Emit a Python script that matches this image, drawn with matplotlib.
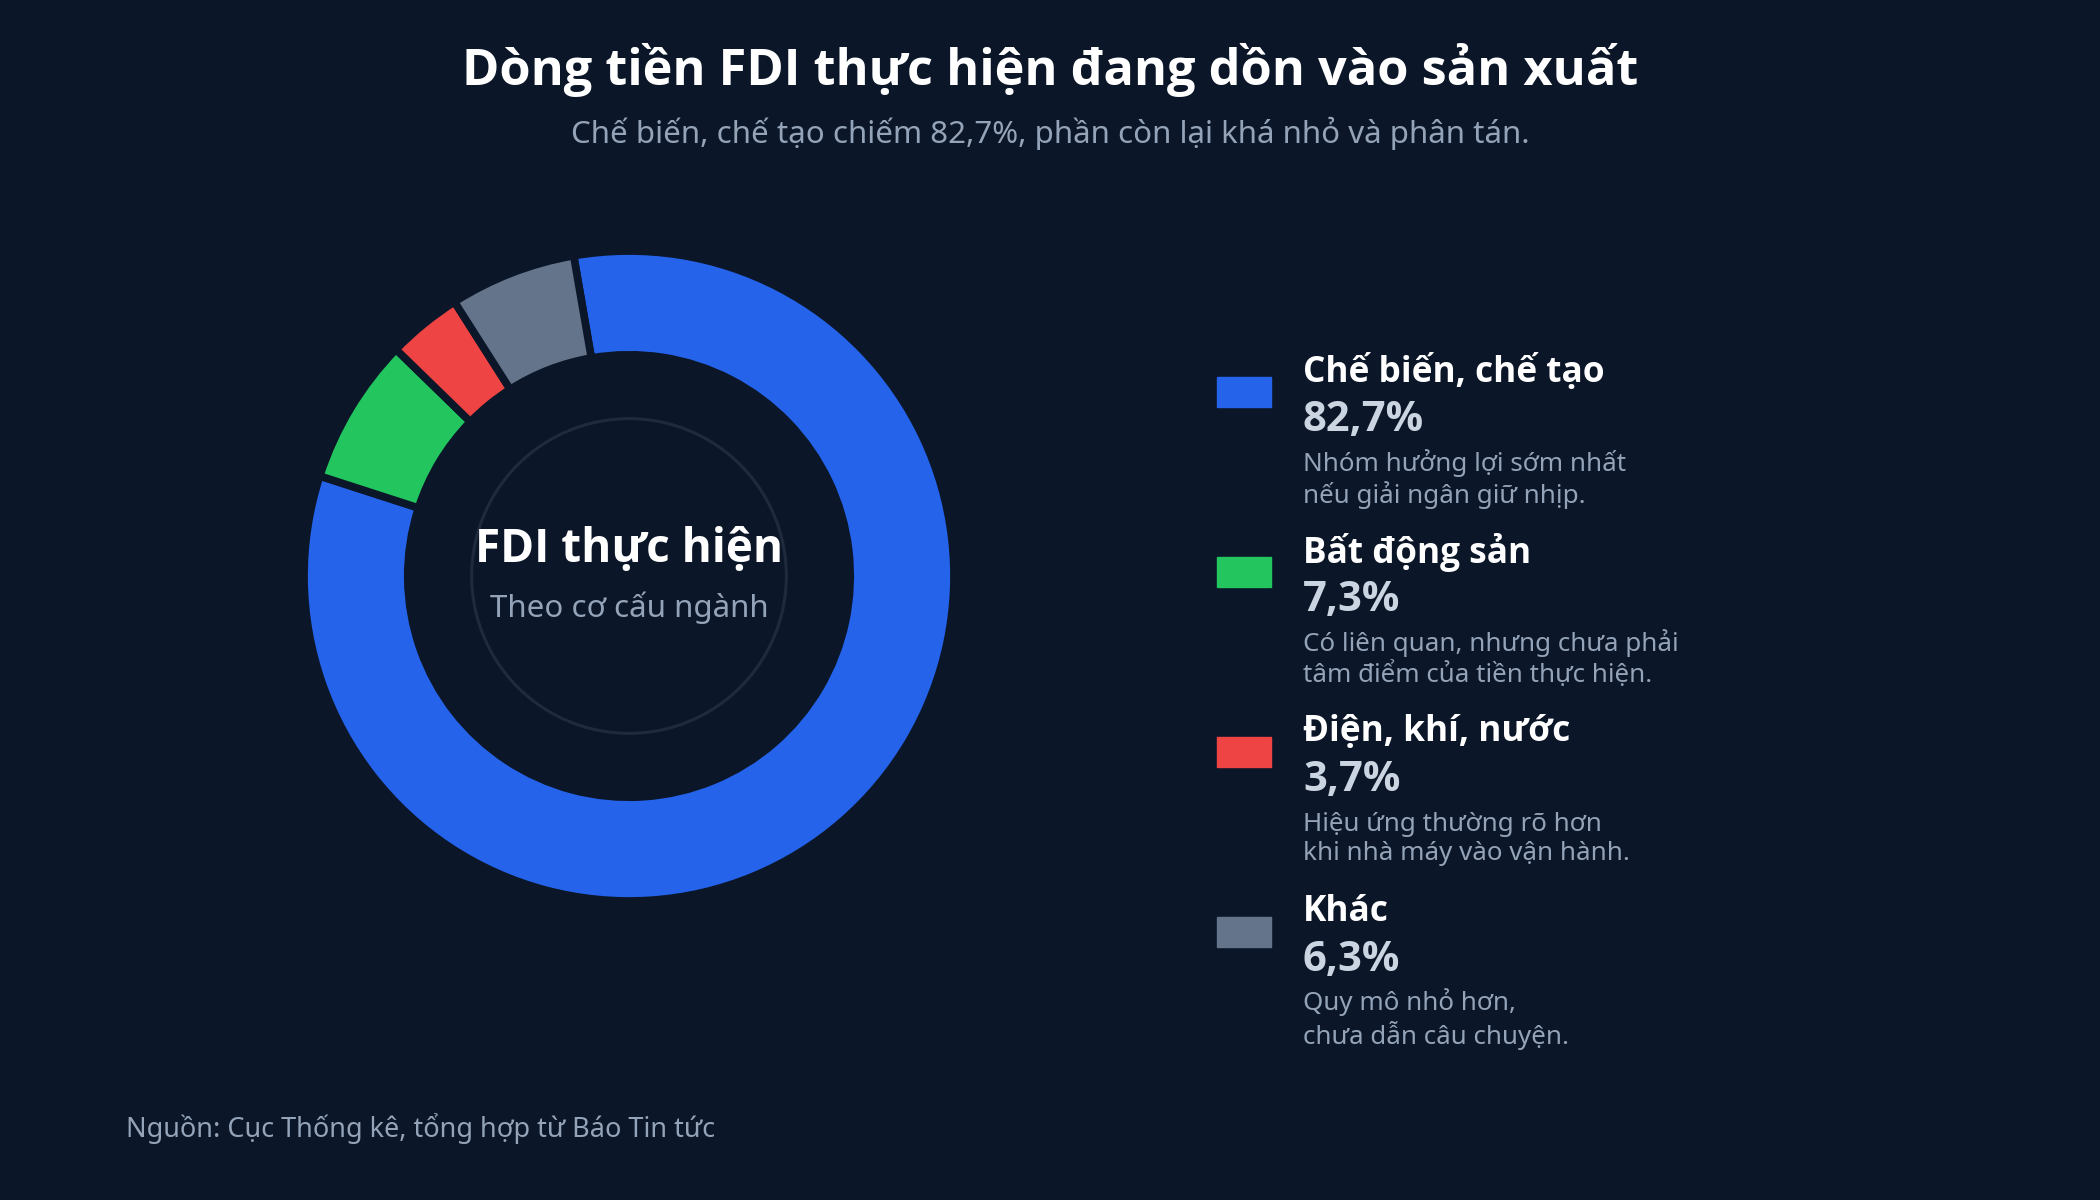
import matplotlib
matplotlib.use("Agg")
import matplotlib.pyplot as plt
from matplotlib.patches import Circle

plt.rcParams['font.family'] = ['Noto Sans', 'DejaVu Sans']
BOLD = ['Open Sans', 'DejaVu Sans']

# ---- data ----
categories = ["Chế biến, chế tạo", "Bất động sản", "Điện, khí, nước", "Khác"]
values = [82.7, 7.3, 3.7, 6.3]
value_labels = ["82,7%", "7,3%", "3,7%", "6,3%"]
descriptions = [
    "Nhóm hưởng lợi sớm nhất\nnếu giải ngân giữ nhịp.",
    "Có liên quan, nhưng chưa phải\ntâm điểm của tiền thực hiện.",
    "Hiệu ứng thường rõ hơn\nkhi nhà máy vào vận hành.",
    "Quy mô nhỏ hơn,\nchưa dẫn câu chuyện.",
]
colors = ["#2563eb", "#22c55e", "#ef4444", "#64748b"]

title = "Dòng tiền FDI thực hiện đang dồn vào sản xuất"
subtitle = "Chế biến, chế tạo chiếm 82,7%, phần còn lại khá nhỏ và phân tán."
center_title = "FDI thực hiện"
center_sub = "Theo cơ cấu ngành"
source = "Nguồn: Cục Thống kê, tổng hợp từ Báo Tin tức"

BG = "#0b1628"
W, H = 2100, 1200
fig = plt.figure(figsize=(W / 100, H / 100), dpi=100, facecolor=BG)

def fx(x):
    return x / W

def fy(y):
    return 1 - y / H

# ---- donut ----
cx, cy, box = 629, 576, 700
ax = fig.add_axes([fx(cx - box / 2), fy(cy + box / 2), box / W, box / H])
ax.set_facecolor(BG)
ax.pie(values, colors=colors, startangle=99.8, counterclock=False,
       radius=1.012, wedgeprops=dict(width=0.323, edgecolor=BG, linewidth=5.5))
ax.add_patch(Circle((0, 0), 0.49, fill=False, edgecolor="#1f2a3c", linewidth=2.2))
ax.set_xlim(-1.09, 1.09)
ax.set_ylim(-1.09, 1.09)
ax.set_aspect('equal')
ax.axis('off')

ax.text(0, 0.082, center_title, ha='center', va='center', color='white',
        fontsize=33, fontweight='bold', family=BOLD)
ax.text(0, -0.098, center_sub, ha='center', va='center', color='#94a3b8',
        fontsize=22.5)

# ---- titles ----
fig.text(fx(1050), fy(70), title, ha='center', va='center', color='white',
         fontsize=36.4, fontweight='bold', family=BOLD)
fig.text(fx(1050), fy(133), subtitle, ha='center', va='center', color='#94a3b8',
         fontsize=22.5)

# ---- legend ----
y0, step = 372, 180
for i, (cat, lab, desc, col) in enumerate(zip(categories, value_labels, descriptions, colors)):
    yt = y0 + i * step
    fig.patches.append(plt.Rectangle((fx(1217), fy(yt + 35)), 54 / W, 30 / H,
                                     transform=fig.transFigure, color=col))
    fig.text(fx(1303), fy(yt), cat, ha='left', va='center', color='white',
             fontsize=25.4, fontweight='bold', family=BOLD)
    fig.text(fx(1303), fy(yt + 48), lab, ha='left', va='center', color='#cbd5e1',
             fontsize=30, fontweight='bold', family=BOLD)
    fig.text(fx(1303), fy(yt + 107), desc, ha='left', va='center', color='#94a3b8',
             fontsize=18.7, linespacing=1.19)

fig.text(fx(126), fy(1129), source, ha='left', va='center', color='#94a3b8',
         fontsize=19.5)

fig.savefig("out.png", dpi=100, facecolor=BG)
